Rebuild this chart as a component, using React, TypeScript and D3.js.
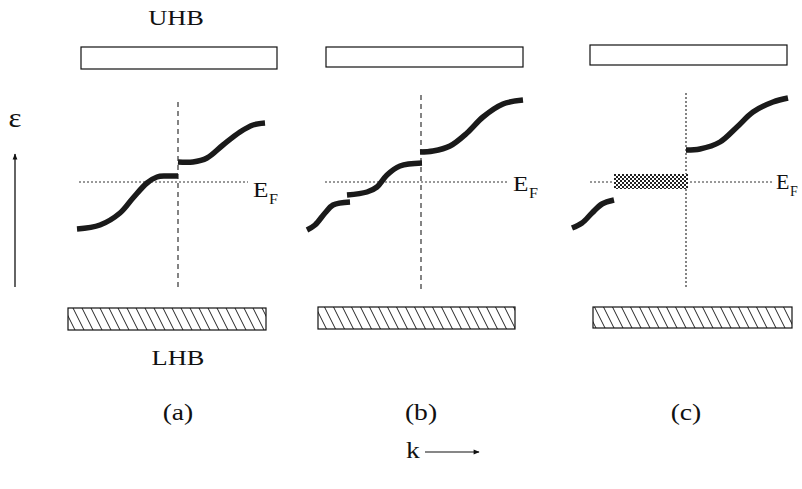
import React from "react";
import * as d3 from "d3";

// Energy in units relative to E_F (E_F = 0), k relative to the zone boundary (k = 0)
type Pt = [number, number];

const curveA1: Pt[] = [[-10.1, -4.7], [-7.8, -4.3], [-5.8, -3.1], [-4.5, -1.6], [-3.1, -0.1], [-2.1, 0.5], [-1.2, 0.6], [0, 0.6]];
const curveA2: Pt[] = [[0, 2.0], [1.5, 2.0], [2.9, 2.4], [4.5, 3.7], [6.2, 5.0], [7.5, 5.7], [8.7, 5.9]];

const curveB1: Pt[] = [[-11.4, -4.8], [-10.6, -4.3], [-9.6, -3.1], [-8.8, -2.3], [-7.1, -2.0]];
const curveB2: Pt[] = [[-7.4, -1.3], [-5.4, -1.0], [-4.4, -0.5], [-3.4, 0.7], [-2.1, 1.6], [0.1, 1.9]];
const curveB3: Pt[] = [[-0.1, 3.0], [1.2, 3.1], [2.9, 3.6], [4.6, 4.9], [6.2, 6.5], [8.2, 7.8], [10.2, 8.2]];

const curveC1: Pt[] = [[-11.4, -4.6], [-10.4, -4.1], [-9.4, -3.1], [-8.4, -2.2], [-7.2, -1.8]];
const curveC2: Pt[] = [[0, 3.2], [1.4, 3.3], [3.4, 4.0], [5.1, 5.5], [6.7, 7.0], [8.7, 8.0], [10.2, 8.4]];

// Pseudogap (checkered) region in panel (c): [kMin, kMax, eMin, eMax]
const gapC = [-7.2, 0.2, -0.7, 0.8];

const panelLabels = ["(a)", "(b)", "(c)"];
const bandLabels = ["UHB", "LHB"];

const W = 802;
const H = 489;

const yScale = d3.scaleLinear().domain([-10, 10]).range([282, 82]);

type Panel = {
  x0: number;
  curves: Pt[][];
  efX: [number, number];
  vY: [number, number];
  vDash: string;
  uhb: [number, number, number, number];
  lhb: [number, number, number, number];
  eLabel: [number, number, number];
  gap?: number[];
};

const panels: Panel[] = [
  { x0: 178, curves: [curveA1, curveA2], efX: [79, 248], vY: [102, 288], vDash: "5,4", uhb: [81, 47, 277, 69], lhb: [68, 308, 266, 330], eLabel: [253, 197, 1.15] },
  { x0: 421, curves: [curveB1, curveB2, curveB3], efX: [325, 507], vY: [95, 292], vDash: "5,4", uhb: [326, 47, 523, 67], lhb: [318, 307, 515, 329], eLabel: [513, 191, 1.15] },
  { x0: 686, curves: [curveC1, curveC2], efX: [590, 773], vY: [93, 288], vDash: "2,2", uhb: [590, 45, 787, 65], lhb: [593, 307, 792, 328], eLabel: [776, 189, 1.0], gap: gapC },
];

const font = "Liberation Serif, Times New Roman, serif";

function SText(props: { x: number; y: number; size: number; sx?: number; anchor?: string; children: React.ReactNode }) {
  const sx = props.sx ?? 1.2;
  return (
    <text
      transform={`translate(${props.x},${props.y}) scale(${sx},1)`}
      fontSize={props.size}
      textAnchor={props.anchor ?? "middle"}
      fill="#111"
    >
      {props.children}
    </text>
  );
}

export default function App() {
  return (
    <svg width={W} height={H} style={{ position: "absolute", left: 0, top: 0, background: "#fff", fontFamily: font }}>
      <defs>
        <pattern id="hatch" patternUnits="userSpaceOnUse" width="9" height="18">
          <line x1="0" y1="0" x2="9" y2="18" stroke="#222" strokeWidth="1" />
          <line x1="-9" y1="0" x2="0" y2="18" stroke="#222" strokeWidth="1" />
          <line x1="9" y1="0" x2="18" y2="18" stroke="#222" strokeWidth="1" />
        </pattern>
        <pattern id="checker" patternUnits="userSpaceOnUse" width="4" height="4">
          <rect x="0" y="0" width="4" height="4" fill="#fff" />
          <rect x="0" y="0" width="2" height="2" fill="#222" />
          <rect x="2" y="2" width="2" height="2" fill="#222" />
        </pattern>
        <marker id="arrow" viewBox="0 0 10 10" refX="9" refY="5" markerWidth="9" markerHeight="6" orient="auto" markerUnits="userSpaceOnUse">
          <path d="M0,1 L10,5 L0,9 Z" fill="#111" />
        </marker>
      </defs>

      {/* energy axis */}
      <SText x={15} y={127} size={28} sx={1.1}>ε</SText>
      <line x1={15} y1={287} x2={15} y2={154} stroke="#111" strokeWidth={1.3} markerEnd="url(#arrow)" />

      {/* k axis */}
      <SText x={413} y={458} size={24} sx={1.15}>k</SText>
      <line x1={425} y1={452} x2={479} y2={452} stroke="#111" strokeWidth={1.2} markerEnd="url(#arrow)" />

      <SText x={176} y={25} size={22}>{bandLabels[0]}</SText>
      <SText x={178} y={365} size={22}>{bandLabels[1]}</SText>

      {panels.map((p, i) => {
        const xScale = d3.scaleLinear().domain([-10, 10]).range([p.x0 - 100, p.x0 + 100]);
        const line = d3
          .line<Pt>()
          .x((d) => xScale(d[0]))
          .y((d) => yScale(d[1]))
          .curve(d3.curveCatmullRom.alpha(0.5));
        const efY = yScale(0);
        return (
          <g key={i}>
            <rect x={p.uhb[0]} y={p.uhb[1]} width={p.uhb[2] - p.uhb[0]} height={p.uhb[3] - p.uhb[1]} fill="#fff" stroke="#111" strokeWidth={1.2} />
            <rect x={p.lhb[0]} y={p.lhb[1]} width={p.lhb[2] - p.lhb[0]} height={p.lhb[3] - p.lhb[1]} fill="url(#hatch)" stroke="#111" strokeWidth={1.2} />
            <line x1={p.efX[0]} y1={efY} x2={p.efX[1]} y2={efY} stroke="#333" strokeWidth={1} strokeDasharray="2,2" />
            <line x1={p.x0} y1={p.vY[0]} x2={p.x0} y2={p.vY[1]} stroke="#333" strokeWidth={1.2} strokeDasharray={p.vDash} />
            {p.gap && (
              <rect
                x={xScale(p.gap[0])}
                y={yScale(p.gap[3])}
                width={xScale(p.gap[1]) - xScale(p.gap[0])}
                height={yScale(p.gap[2]) - yScale(p.gap[3])}
                fill="url(#checker)"
              />
            )}
            {p.curves.map((c, j) => (
              <path key={j} d={line(c) || ""} fill="none" stroke="#1a1a1a" strokeWidth={5.5} strokeLinecap="butt" />
            ))}
            <SText x={p.eLabel[0]} y={p.eLabel[1]} size={22} sx={p.eLabel[2]} anchor="start">
              E
              <tspan fontSize={14} dy={7} dx={0.5}>F</tspan>
            </SText>
            <SText x={p.x0} y={420} size={23}>{panelLabels[i]}</SText>
          </g>
        );
      })}
    </svg>
  );
}
